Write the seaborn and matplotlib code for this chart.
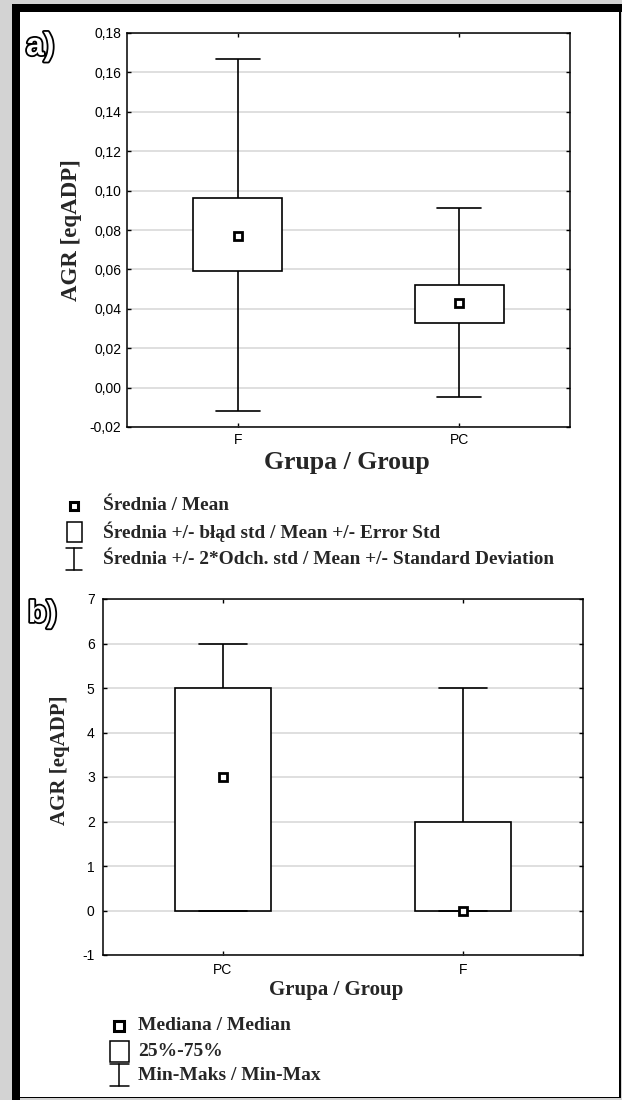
import numpy as np
import pandas as pd
import matplotlib
matplotlib.use("Agg")
import matplotlib.pyplot as plt
import seaborn as sns
from matplotlib.patches import Rectangle
from matplotlib.lines import Line2D
import matplotlib.patheffects as pe

# ---------------- data ----------------
# Panel a: mean, mean +/- standard error (box), mean +/- 2*SD (whiskers)
a_groups = ["F", "PC"]
a_low2sd = [-0.012, -0.005]
a_lowse = [0.059, 0.033]
a_mean = [0.077, 0.043]
a_highse = [0.096, 0.052]
a_high2sd = [0.167, 0.091]
a_yticks = [-0.02, 0.00, 0.02, 0.04, 0.06, 0.08, 0.10, 0.12, 0.14, 0.16, 0.18]
a_yticklabels = ["-0,02", "0,00", "0,02", "0,04", "0,06", "0,08",
                 "0,10", "0,12", "0,14", "0,16", "0,18"]

# Panel b: median, 25%-75% (box), min-max (whiskers)
b_groups = ["PC", "F"]
b_min = [0, 0]
b_q1 = [0, 0]
b_median = [3, 0]
b_q3 = [5, 2]
b_max = [6, 5]
b_yticks = [-1, 0, 1, 2, 3, 4, 5, 6, 7]
b_yticklabels = ["-1", "0", "1", "2", "3", "4", "5", "6", "7"]

ylabel_txt = "AGR [eqADP]"
xlabel_txt = "Grupa / Group"
a_legend = ["Średnia / Mean",
            "Średnia +/- błąd std / Mean +/- Error Std",
            "Średnia +/- 2*Odch. std / Mean +/- Standard Deviation"]
b_legend = ["Mediana / Median", "25%-75%", "Min-Maks / Min-Max"]

# ---------------- setup ----------------
sns.set_theme(style="white")
plt.rcParams["font.family"] = ["Liberation Sans", "DejaVu Sans"]

W, H = 622, 1100
fig = plt.figure(figsize=(W / 100, H / 100), dpi=100)
fig.patch.set_facecolor("#d3d3d3")


def fx(px):
    return px / W


def fy(py):
    return 1 - py / H


def frect(x0, y0, x1, y1, **kw):
    # pixel coords, top-left origin
    return Rectangle((fx(x0), fy(y1)), fx(x1) - fx(x0), (y1 - y0) / H,
                     transform=fig.transFigure, **kw)


# frame
fig.add_artist(frect(20, 12, 620, 1097, facecolor="white", edgecolor="none", zorder=0))
fig.add_artist(frect(12, 4, 20, 1100, facecolor="black", edgecolor="none", zorder=1))
fig.add_artist(frect(12, 4, 622, 12, facecolor="black", edgecolor="none", zorder=1))
fig.add_artist(frect(619.3, 12, 620.8, 1098, facecolor="black", edgecolor="none", zorder=1))
fig.add_artist(frect(20, 1096.5, 620.8, 1098, facecolor="black", edgecolor="none", zorder=1))

serif = ["Liberation Serif", "DejaVu Serif"]


def long_frame(groups, cols):
    rows = []
    for i, g in enumerate(groups):
        for c in cols:
            rows.append({"group": g, "value": c[i]})
    return pd.DataFrame(rows)


def style_axis(ax, yticks, yticklabels, ylim):
    ax.set_xlim(-0.5, 1.5)
    ax.set_ylim(*ylim)
    ax.set_yticks(yticks)
    ax.set_yticklabels(yticklabels)
    ax.yaxis.grid(True, color="#dcdcdc", linewidth=1.3)
    ax.xaxis.grid(False)
    ax.set_axisbelow(True)
    for s in ax.spines.values():
        s.set_visible(True)
        s.set_color("black")
        s.set_linewidth(1.1)
    ax.tick_params(direction="in", length=3, width=1, colors="black",
                   top=True, right=True, left=True, bottom=True,
                   labelsize=10, pad=4)
    ax.set_facecolor("white")


# ---------------- panel a ----------------
axa = fig.add_axes([fx(127), fy(427), fx(570) - fx(127), (427 - 33) / H])
dfa = long_frame(a_groups, [a_low2sd, a_lowse, a_mean, a_highse, a_high2sd])
sns.boxplot(data=dfa, x="group", y="value", order=a_groups, ax=axa,
            whis=np.inf, width=0.4, color="white", linecolor="black",
            linewidth=1.2, medianprops={"visible": False}, showfliers=False)
sns.pointplot(x=a_groups, y=a_mean, order=a_groups, ax=axa, linestyle="none",
              marker="s", markersize=5.4, markeredgewidth=2.0,
              color="black", markerfacecolor="white", errorbar=None)
style_axis(axa, a_yticks, a_yticklabels, (-0.02, 0.18))
axa.set_xlabel("")
axa.set_ylabel("")
fig.text(fx(72), fy(230), ylabel_txt, rotation=90, ha="center", va="center",
         family=serif, fontweight="bold", fontsize=16.5)
fig.text(fx(347), fy(463), xlabel_txt, ha="center", va="center",
         family=serif, fontweight="bold", fontsize=18.5)

# ---------------- panel b ----------------
axb = fig.add_axes([fx(103), fy(955), fx(583) - fx(103), (955 - 599) / H])
dfb = long_frame(b_groups, [b_min, b_q1, b_median, b_q3, b_max])
sns.boxplot(data=dfb, x="group", y="value", order=b_groups, ax=axb,
            whis=np.inf, width=0.4, color="white", linecolor="black",
            linewidth=1.2, medianprops={"visible": False}, showfliers=False)
sns.pointplot(x=b_groups, y=b_median, order=b_groups, ax=axb, linestyle="none",
              marker="s", markersize=5.4, markeredgewidth=2.0,
              color="black", markerfacecolor="white", errorbar=None)
style_axis(axb, b_yticks, b_yticklabels, (-1, 7))
axb.tick_params(pad=6)
axb.set_xlabel("")
axb.set_ylabel("")
fig.text(fx(60), fy(760), ylabel_txt, rotation=90, ha="center", va="center",
         family=serif, fontweight="bold", fontsize=15)
fig.text(fx(336), fy(990), xlabel_txt, ha="center", va="center",
         family=serif, fontweight="bold", fontsize=15)

# ---------------- panel labels ----------------
for lbl, (px, py), fs in [("a)", (26, 47), 23), ("b)", (28, 614), 22)]:
    fig.text(fx(px), fy(py), lbl, ha="left", va="center", fontsize=fs,
             fontweight="bold", color="white", family=["Liberation Sans"],
             path_effects=[pe.Stroke(linewidth=2.6, foreground="black"), pe.Normal()])


# ---------------- legends ----------------
def legend_block(cx, rows_y, texts, tx, fontsize, sq, bw, bh, iw, ih):
    # mean / median marker
    fig.add_artist(Line2D([fx(cx)], [fy(rows_y[0])], transform=fig.transFigure,
                          marker="s", markersize=sq, markeredgewidth=2.2,
                          markerfacecolor="white", markeredgecolor="black",
                          linestyle="none"))
    # box symbol
    fig.add_artist(frect(cx - bw / 2, rows_y[1] - bh / 2, cx + bw / 2, rows_y[1] + bh / 2,
                         facecolor="white", edgecolor="black", linewidth=1.1))
    # whisker symbol
    y0, y1 = rows_y[2] - ih / 2, rows_y[2] + ih / 2
    for xs, ys in [([cx, cx], [y0, y1]),
                   ([cx - iw / 2, cx + iw / 2], [y0, y0]),
                   ([cx - iw / 2, cx + iw / 2], [y1, y1])]:
        fig.add_artist(Line2D([fx(v) for v in xs], [fy(v) for v in ys],
                              transform=fig.transFigure, color="black", linewidth=1.1))
    for t, y in zip(texts, rows_y):
        fig.text(fx(tx), fy(y), t, ha="left", va="center", family=serif,
                 fontweight="bold", fontsize=fontsize)


legend_block(74, [506, 532, 559], a_legend, 103, 13.9, 6.2, 15, 20, 16, 22)
legend_block(119, [1026, 1051, 1075], b_legend, 138, 14, 6.8, 19, 21, 19, 22)

fig.savefig("out.png", dpi=100, facecolor=fig.get_facecolor())
